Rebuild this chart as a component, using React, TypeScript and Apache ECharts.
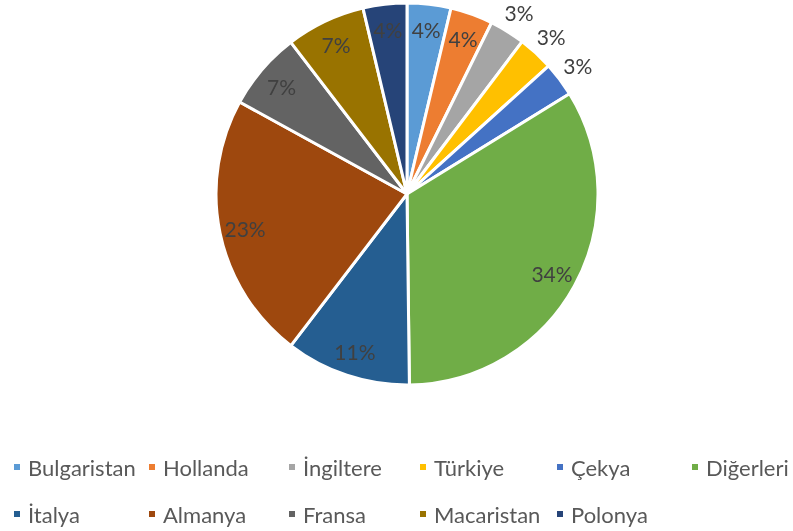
import React, { useEffect, useRef } from "react";
import * as echarts from "echarts";

const categories = [
  "Bulgaristan",
  "Hollanda",
  "İngiltere",
  "Türkiye",
  "Çekya",
  "Diğerleri",
  "İtalya",
  "Almanya",
  "Fransa",
  "Macaristan",
  "Polonya",
];
const values = [3.7, 3.6, 3.0, 3.0, 2.9, 33.6, 10.6, 22.6, 6.6, 6.7, 3.7];
const colors = [
  "#5B9BD5",
  "#ED7D31",
  "#A5A5A5",
  "#FFC000",
  "#4472C4",
  "#70AD47",
  "#255E91",
  "#9E480E",
  "#636363",
  "#997300",
  "#264478",
];
const outsideLabels = ["İngiltere", "Türkiye", "Çekya"];

const legendCols = [12, 147, 287, 418, 555, 690];
const legendRows = [456, 503];

const FONT = "Lato, 'Noto Sans', sans-serif";

export default function App() {
  const ref = useRef<HTMLDivElement>(null);
  useEffect(() => {
    if (!ref.current) return;
    const chart = echarts.init(ref.current, undefined, { renderer: "svg" });
    const total = values.reduce((a, b) => a + b, 0);
    const pct = (v: number) => Math.round((v / total) * 100) + "%";
    const center = [407, 194];
    const R = 191;

    const baseData = categories.map((name, i) => ({
      name,
      value: values[i],
      itemStyle: { color: colors[i] },
    }));

    const labelData = (outside: boolean) =>
      categories.map((name, i) => {
        const isOut = outsideLabels.includes(name);
        return {
          name,
          value: values[i],
          itemStyle: { color: "transparent", borderWidth: 0 },
          label: { show: outside ? isOut : !isOut },
        };
      });

    const labelSeries = (radius: number[], outside: boolean) => ({
      type: "pie",
      center,
      radius,
      startAngle: 90,
      clockwise: true,
      silent: true,
      avoidLabelOverlap: false,
      emphasis: { disabled: true },
      labelLine: { show: false },
      label: {
        position: "inside",
        formatter: (p: any) => pct(p.value),
        color: "#404040",
        fontSize: 21,
        lineHeight: 21,
        fontFamily: FONT,
      },
      data: labelData(outside),
    });

    const legends: any[] = categories.map((name, i) => {
      const col = i < 6 ? i : i - 6;
      const row = i < 6 ? 0 : 1;
      return {
        left: legendCols[col],
        top: legendRows[row],
        icon: "rect",
        itemWidth: 8,
        itemHeight: 8,
        selectedMode: false,
        padding: 0,
        textStyle: {
          color: "#595959",
          fontSize: 22,
          fontFamily: FONT,
          padding: [0, 0, 0, 2],
        },
        data: [{ name, itemStyle: { color: colors[i] } }],
      };
    });

    chart.setOption({
      animation: false,
      legend: legends,
      series: [
        {
          type: "pie",
          center,
          radius: R,
          startAngle: 90,
          clockwise: true,
          silent: true,
          emphasis: { disabled: true },
          label: { show: false },
          labelLine: { show: false },
          itemStyle: { borderColor: "#ffffff", borderWidth: 3 },
          data: baseData,
        },
        labelSeries([134, R], false),
        labelSeries([R, 230], true),
      ],
    });
    return () => chart.dispose();
  }, []);
  return (
    <div
      ref={ref}
      style={{ position: "fixed", left: 0, top: 0, width: 793, height: 531 }}
    />
  );
}
